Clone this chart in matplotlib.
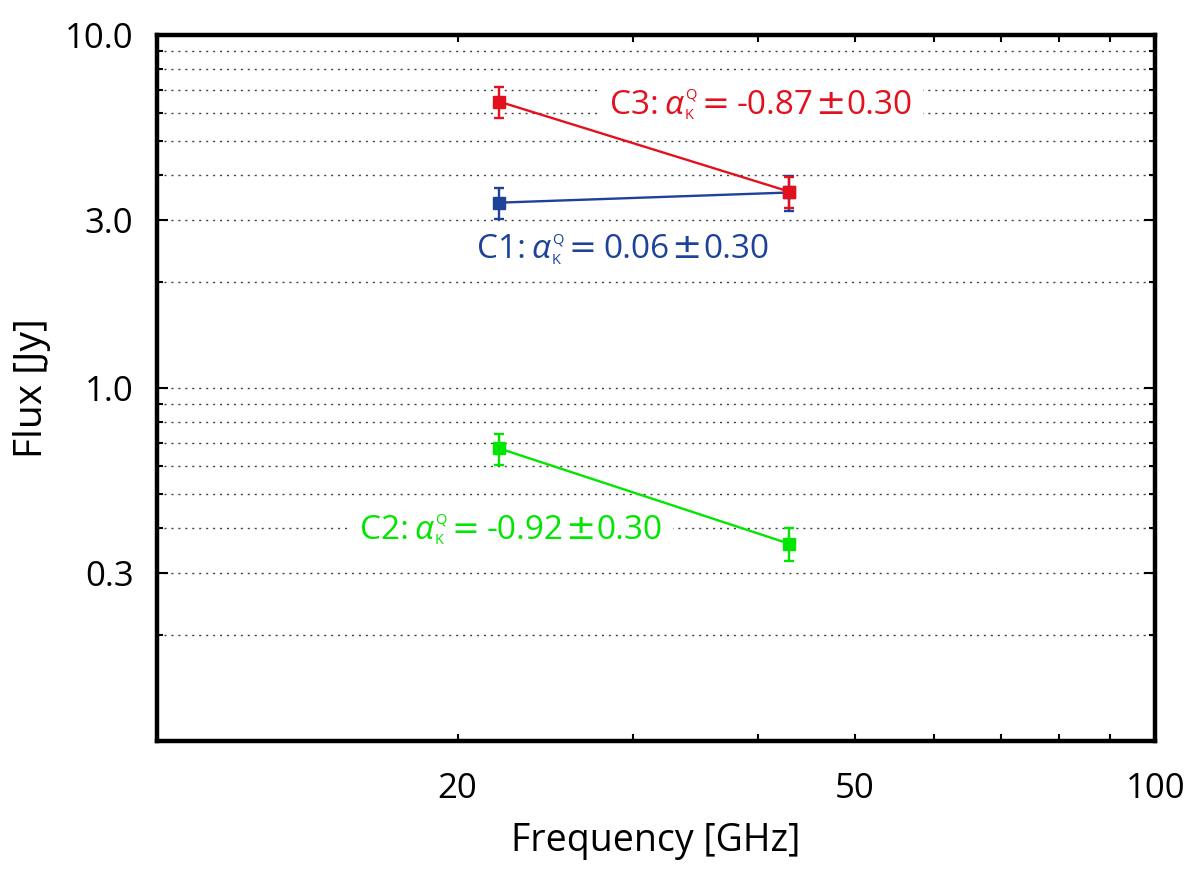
import matplotlib
matplotlib.use("Agg")
import matplotlib.pyplot as plt
from matplotlib.ticker import FixedLocator, FixedFormatter, NullFormatter
from matplotlib.transforms import Bbox
from matplotlib.patches import Rectangle

plt.rcParams['font.family'] = ['Open Sans', 'DejaVu Sans']

freq = [22, 43]
c1_flux = [3.35, 3.58]
c1_err = [0.34, 0.40]
c2_flux = [0.675, 0.362]
c2_err = [0.068, 0.038]
c3_flux = [6.48, 3.60]
c3_err = [0.65, 0.36]

labels = ["C1", "C2", "C3"]
alphas = ["0.06", "-0.92", "-0.87"]
alpha_err = "0.30"

ytick_vals = [0.3, 1.0, 3.0, 10.0]
ytick_labels = ["0.3", "1.0", "3.0", "10.0"]
xtick_vals = [20, 50, 100]
xtick_labels = ["20", "50", "100"]

col_c1 = '#1d4299'
col_c2 = '#00e600'
col_c3 = '#e3101e'

fig = plt.figure(figsize=(11.99, 8.69), dpi=100)
ax = fig.add_axes([0.131, 0.1473, 0.8325, 0.8124])
ax.set_xscale('log')
ax.set_yscale('log')
ax.set_xlim(10, 100)
ax.set_ylim(0.1, 10)

for flux, err, col in [(c1_flux, c1_err, col_c1), (c3_flux, c3_err, col_c3), (c2_flux, c2_err, col_c2)]:
    ax.errorbar(freq, flux, yerr=err, color=col, marker='s', markersize=8.5,
                linewidth=1.7, elinewidth=1.7, capsize=3.5, capthick=1.7, zorder=4)

ymin = [0.2, 0.4, 0.5, 0.6, 0.7, 0.8, 0.9, 2, 4, 5, 6, 7, 8, 9]
ax.yaxis.set_major_locator(FixedLocator(ytick_vals))
ax.yaxis.set_major_formatter(FixedFormatter(ytick_labels))
ax.yaxis.set_minor_locator(FixedLocator(ymin))
ax.yaxis.set_minor_formatter(NullFormatter())
ax.xaxis.set_major_locator(FixedLocator(xtick_vals))
ax.xaxis.set_major_formatter(FixedFormatter(xtick_labels))
ax.xaxis.set_minor_locator(FixedLocator([30, 40, 60, 70, 80, 90]))
ax.xaxis.set_minor_formatter(NullFormatter())

ax.yaxis.grid(True, which='both', color='#444444', linestyle=(0, (1.5, 3.5)), linewidth=1.0)
ax.xaxis.grid(False)

ax.tick_params(axis='both', which='both', direction='in', top=True, right=True, width=1.5, color='black')
ax.tick_params(axis='y', which='major', length=8, labelsize=25, pad=17)
ax.tick_params(axis='y', which='minor', length=4)
ax.tick_params(axis='x', which='major', length=5, labelsize=25, pad=22)
ax.tick_params(axis='x', which='minor', length=5)
for s in ax.spines.values():
    s.set_linewidth(3.2)

ax.set_xlabel("Frequency [GHz]", fontsize=27, labelpad=12)
ax.set_ylabel("Flux [Jy]", fontsize=28, labelpad=10)

F = 24


def chain(prev, txt, dx, dy, y, col, **kw):
    return ax.annotate(txt, xy=(1, y), xycoords=(prev, 'data'), xytext=(dx, dy),
                       textcoords='offset points', color=col, va='baseline', ha='left',
                       zorder=5, **kw)


def spectral_label(x, y, name, a, col):
    t0 = ax.text(x, y, name + ":", fontsize=F, color=col, va='baseline', ha='left', zorder=5)
    ta = chain(t0, "\u03b1", 4, 0, y, col, fontsize=24, style='italic')
    tq = chain(ta, "Q", 1, 11, y, col, fontsize=10.5)
    tk = chain(ta, "K", 1, -3.8, y, col, fontsize=10.5)
    te = chain(tq, "=", 4, 0, y, col, fontsize=24, family='DejaVu Sans')
    tv = chain(te, a, 5, 0, y, col, fontsize=F)
    tp = chain(tv, "\u00b1", 1, 0, y, col, fontsize=26, family='DejaVu Sans')
    tz = chain(tp, alpha_err, 1, 0, y, col, fontsize=F)
    return [t0, ta, tq, tk, te, tv, tp, tz]


groups = [
    spectral_label(28.44, 5.98, labels[2], alphas[2], col_c3),
    spectral_label(20.92, 2.329, labels[0], alphas[0], col_c1),
    spectral_label(15.97, 0.3745, labels[1], alphas[1], col_c2),
]

# white backgrounds behind the labels (hide the grid lines as in the original)
fig.canvas.draw()
renderer = fig.canvas.get_renderer()
inv = ax.transAxes.inverted()
for g in groups:
    bb = Bbox.union([t.get_window_extent(renderer) for t in g])
    x0, y0 = inv.transform((bb.x0 - 10, bb.y0 - 1))
    x1, y1 = inv.transform((bb.x1 + 10, bb.y1 + 1))
    ax.add_patch(Rectangle((x0, y0), x1 - x0, y1 - y0, transform=ax.transAxes,
                           facecolor='white', edgecolor='none', zorder=2))

fig.savefig("out.png", dpi=100)
